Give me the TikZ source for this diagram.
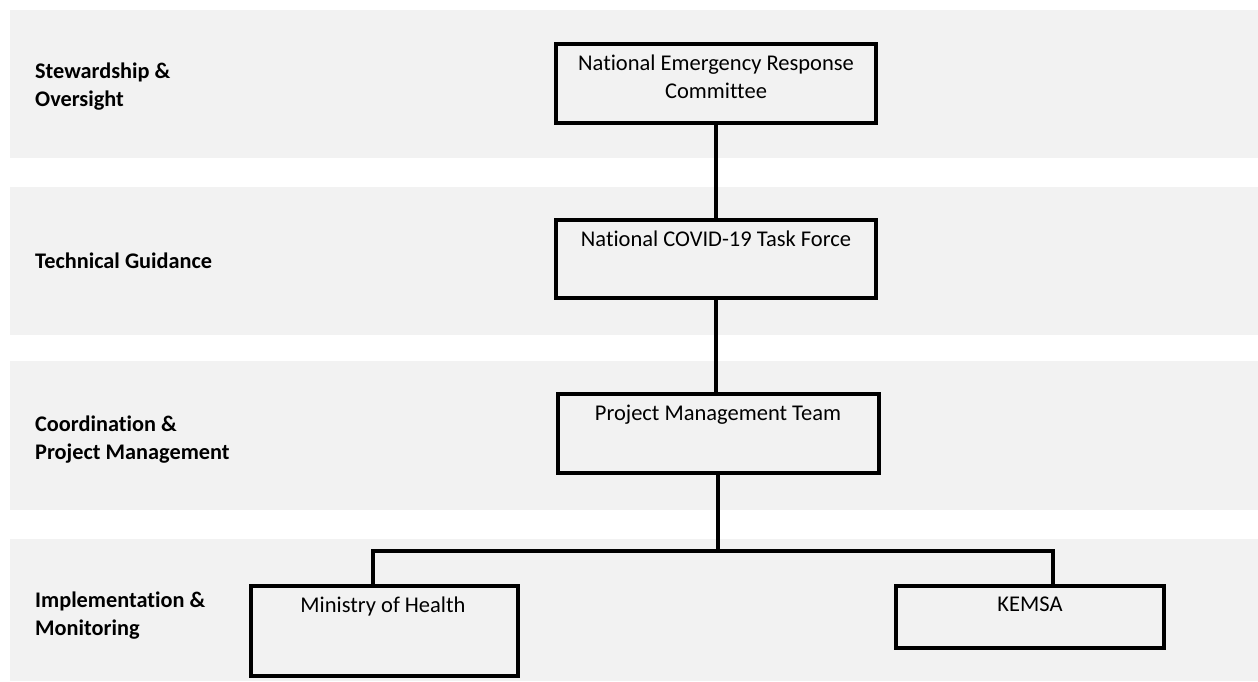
\documentclass[tikz,border=0pt]{standalone}
\usepackage{fontspec}
\setmainfont{Carlito}[Ligatures=NoCommon]
\begin{document}
\begin{tikzpicture}[x=1pt,y=-1pt,
  band/.style={fill=bandgray,draw=none},
  orgbox/.style={draw=black,line width=4pt,fill=none,minimum width=#1,inner sep=0pt},
  boxtext/.style={font=\fontsize{22.5}{28}\selectfont,align=center,anchor=base,inner sep=0pt},
  lvl/.style={font=\fontsize{22.3}{27.5}\selectfont\bfseries,align=left,anchor=base west,inner sep=0pt},
  conn/.style={line width=4pt}]
\definecolor{bandgray}{RGB}{242,242,242}
\useasboundingbox (0,0) rectangle (1258,681);
\fill[white] (0,0) rectangle (1258,681);
% bands
\path[band] (10,10) rectangle (1258,158);
\path[band] (10,187) rectangle (1258,335);
\path[band] (10,361) rectangle (1258,510);
\path[band] (10,539) rectangle (1258,681);
% level labels (base anchor = last line baseline)
\node[lvl] (l1) at (35,106) {Stewardship \&\\Oversight};
\node[lvl] (l2) at (35,268) {Technical Guidance};
\node[lvl] (l3) at (35,459) {Coordination \&\\Project Management};
\node[lvl] (l4) at (35,635) {Implementation \&\\Monitoring};
% boxes
\node[orgbox=320pt,minimum height=79pt] (b1) at (716,83.5) {};
\node[orgbox=320pt,minimum height=78pt] (b2) at (716,259) {};
\node[orgbox=321pt,minimum height=79pt] (b3) at (718,433.5) {};
\node[orgbox=267pt,minimum height=90pt] (moh) at (384.5,631) {};
\node[orgbox=268pt,minimum height=62pt] (kemsa) at (1030,617) {};
% box texts
\node[boxtext] (t1) at (716,98) {National Emergency Response\\Committee};
\node[boxtext] (t2) at (716,246) {National COVID-19 Task Force};
\node[boxtext] (t3) at (718,420) {Project Management Team};
\node[boxtext] (t4) at (383,612) {Ministry of Health};
\node[boxtext] (t5) at (1030,611) {KEMSA};
% connectors
\coordinate (bus) at (718,551);
\coordinate (busL) at (373,551);
\coordinate (busR) at (1053,551);
\draw[conn] (b1.south) -- (b2.north);
\draw[conn] (b2.south) -- (b2.south |- b3.north);
\draw[conn] (b3.south) -- (bus);
\draw[conn,line join=miter] (busL |- moh.north) -- (busL) -- (busR) -- (busR |- kemsa.north);
\end{tikzpicture}
\end{document}
